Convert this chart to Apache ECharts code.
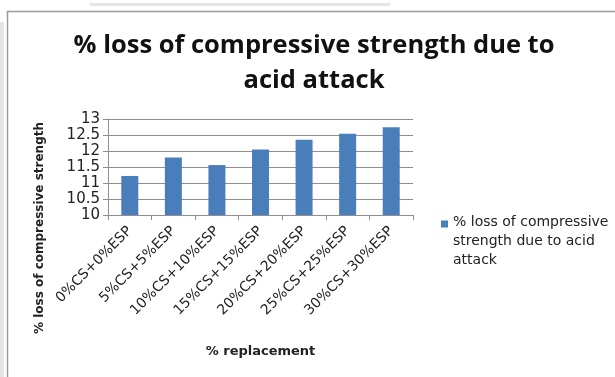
<!DOCTYPE html>
<html>
<head>
<meta charset="utf-8">
<script src="https://cdn.jsdelivr.net/npm/echarts@6/dist/echarts.min.js"></script>
<style>
  html, body { margin: 0; padding: 0; background: #fff; }
  #chart { width: 615px; height: 377px; }
</style>
</head>
<body>
<div id="chart"></div>
<script>
// Mix proportions (cement replaced by CS + ESP)
const categories = ['0%CS+0%ESP', '5%CS+5%ESP', '10%CS+10%ESP', '15%CS+15%ESP', '20%CS+20%ESP', '25%CS+25%ESP', '30%CS+30%ESP'];
// % loss of compressive strength after acid attack
const lossValues = [11.22, 11.8, 11.56, 12.05, 12.35, 12.54, 12.74];
const seriesName = '% loss of compressive strength due to acid attack';
const legendLines = ['% loss of compressive', 'strength due to acid', 'attack'];
const titleText = '% loss of compressive strength due to\nacid attack';
const yAxisTitle = '% loss of compressive strength';
const xAxisTitle = '% replacement';

const chart = echarts.init(document.getElementById('chart'), null, { renderer: 'canvas' });

const gridColor = '#8f8f8f';

chart.setOption({
  animation: false,
  backgroundColor: '#ffffff',
  title: {
    text: titleText,
    left: 314,
    top: 28,
    padding: 0,
    textAlign: 'center',
    textStyle: {
      fontFamily: 'Open Sans',
      fontWeight: 'bold',
      fontSize: 25.5,
      lineHeight: 35,
      color: '#111'
    }
  },
  legend: {
    orient: 'vertical',
    left: 441,
    top: 213,
    padding: 0,
    itemWidth: 7,
    itemHeight: 42,
    symbolKeepAspect: false,
    // swatch drawn at the top of a tall item box so it sits beside the first text line
    icon: 'path://M0,0H7V7H0Z M0,42H0.01V42.01H0Z',
    formatter: function () {
      return legendLines.join('\n');
    },
    textStyle: {
      fontFamily: 'DejaVu Sans',
      fontSize: 14,
      lineHeight: 19,
      color: '#222'
    },
    data: [seriesName]
  },
  grid: {
    left: 108,
    right: 202,
    top: 119,
    bottom: 162,
    containLabel: false
  },
  xAxis: {
    type: 'category',
    data: categories,
    boundaryGap: true,
    name: xAxisTitle,
    nameLocation: 'middle',
    nameGap: 130,
    nameTextStyle: {
      fontFamily: 'DejaVu Sans',
      fontWeight: 'bold',
      fontSize: 13,
      color: '#222'
    },
    axisLine: { show: true, lineStyle: { color: gridColor, width: 1 } },
    axisTick: { show: true, alignWithLabel: false, length: 5, lineStyle: { color: gridColor } },
    axisLabel: {
      interval: 0,
      rotate: 45,
      margin: 14,
      fontFamily: 'DejaVu Sans',
      fontSize: 14,
      color: '#222'
    },
    splitLine: { show: false }
  },
  yAxis: {
    type: 'value',
    min: 10,
    max: 13,
    interval: 0.5,
    axisLine: { show: true, lineStyle: { color: gridColor, width: 1 } },
    axisTick: { show: true, length: 5, lineStyle: { color: gridColor } },
    axisLabel: {
      margin: 8,
      fontFamily: 'DejaVu Sans',
      fontSize: 15,
      color: '#222'
    },
    splitLine: { show: true, lineStyle: { color: gridColor, width: 1 } }
  },
  series: [{
    name: seriesName,
    type: 'bar',
    data: lossValues,
    barWidth: 17,
    itemStyle: { color: '#4A7EBB' }
  }],
  graphic: [
    // chart frame (left and top edges)
    {
      type: 'polyline',
      silent: true,
      shape: { points: [[7.5, 377], [7.5, 11.5], [615, 11.5]] },
      style: { stroke: '#9a9a9a', lineWidth: 1.5, fill: null }
    },
    // faint strips outside the frame
    {
      type: 'rect',
      silent: true,
      shape: { x: 0, y: 22, width: 4, height: 355 },
      style: { fill: '#e4e4e4' }
    },
    {
      type: 'rect',
      silent: true,
      shape: { x: 90, y: 3, width: 300, height: 3 },
      style: { fill: '#e6e6e6' }
    },
    // vertical axis title
    {
      type: 'text',
      silent: true,
      x: 40,
      y: 228,
      rotation: Math.PI / 2,
      style: {
        text: yAxisTitle,
        fontFamily: 'DejaVu Sans',
        fontWeight: 'bold',
        fontSize: 12,
        fill: '#222',
        textAlign: 'center',
        textVerticalAlign: 'middle'
      }
    }
  ]
});
</script>
</body>
</html>
